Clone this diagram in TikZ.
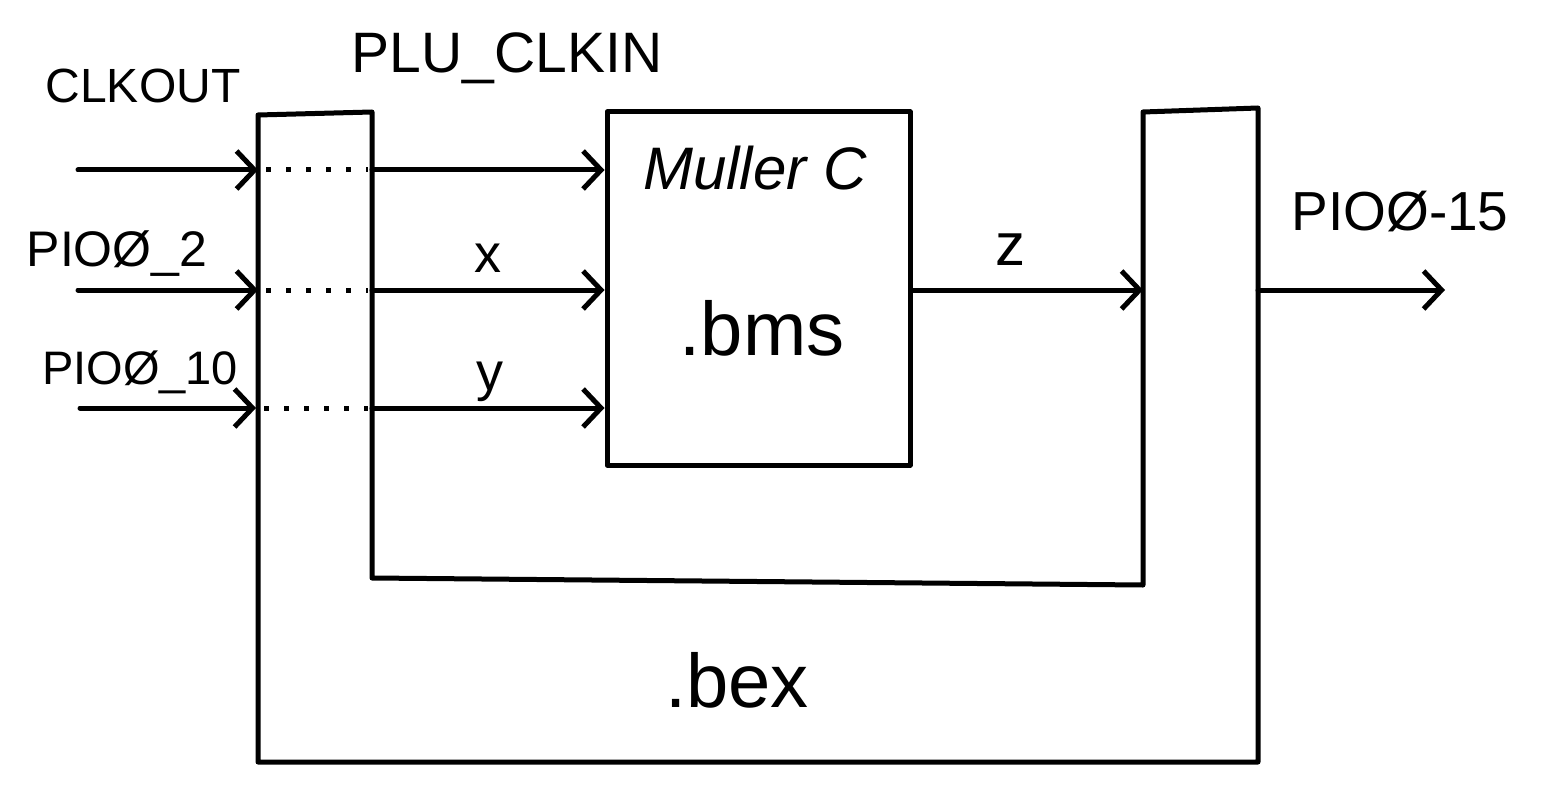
\documentclass[tikz,border=0pt]{standalone}
\usepackage{fontspec}
\setmainfont{Liberation Sans}
\usetikzlibrary{arrows.meta}
\newcommand\myfs[1]{\fontsize{#1}{#1}\selectfont}
\begin{document}
\begin{tikzpicture}[x=1pt,y=-1pt,
  wire/.style={line width=5pt,line cap=round},
  sig/.style={wire,-{Straight Barb[length=18pt,width=38pt]}},
  dots/.style={line width=5pt,dash pattern=on 5pt off 15pt},
  frame/.style={line width=5pt,line join=round},
  lbl/.style={inner sep=0pt,anchor=center},
]
\useasboundingbox (0,0) rectangle (1546,786);
% outer U block (.bex)
\draw[frame] (258,115) -- (372,112) -- (372,578) -- (1143,585) -- (1143,112)
  -- (1258,108) -- (1258,762) -- (258,762) -- cycle;
% Muller C block
\node[draw,frame,minimum width=303pt,minimum height=353pt,inner sep=0pt] (mc) at (758.5,288.5) {};
% ports
\coordinate (a1) at (78,170);  \coordinate (b1) at (258,170); \coordinate (c1) at (372,170);
\coordinate (a2) at (78,290);  \coordinate (b2) at (258,290); \coordinate (c2) at (372,290);
\coordinate (a3) at (80,408);  \coordinate (b3) at (256,408); \coordinate (c3) at (372,408);
\coordinate (zin) at (1143,290);
\coordinate (o1) at (1258,290); \coordinate (o2) at (1445,290);
% inputs
\foreach \i in {1,2,3}{
  \draw[sig] (a\i) -- (b\i);
  \draw[dots] ([xshift=8pt]b\i) -- ([xshift=-4pt]c\i);
  \draw[sig] (c\i) -- (mc.west |- c\i);
}
\draw[sig] (mc.east |- zin) -- (zin);
\draw[sig] (o1) -- (o2);
% labels
\node[lbl] (lclk) at (143,86) {\myfs{48}CLKOUT};
\node[lbl] (lplu) at (507,58) {\myfs{57}PLU\_CLKIN};
\node[lbl] (lp2) at (117,254) {\myfs{50}PIOØ\_2};
\node[lbl] (lp10) at (140,372) {\myfs{47}PIOØ\_10};
\node[lbl] (lp15) at (1400,212) {\myfs{55}PIOØ-15};
\node[lbl] (lx) at (488,258) {\myfs{54}x};
\node[lbl] (ly) at (490,382) {\myfs{54}y};
\node[lbl] (lz) at (1010,250) {\myfs{60}z};
\node[lbl] (lmc) at (755,168) {\myfs{60}\itshape Muller C};
\node[lbl] (lbms) at (762,328) {\myfs{76}.bms};
\node[lbl] (lbex) at (737,680) {\myfs{76}.bex};
\end{tikzpicture}
\end{document}
